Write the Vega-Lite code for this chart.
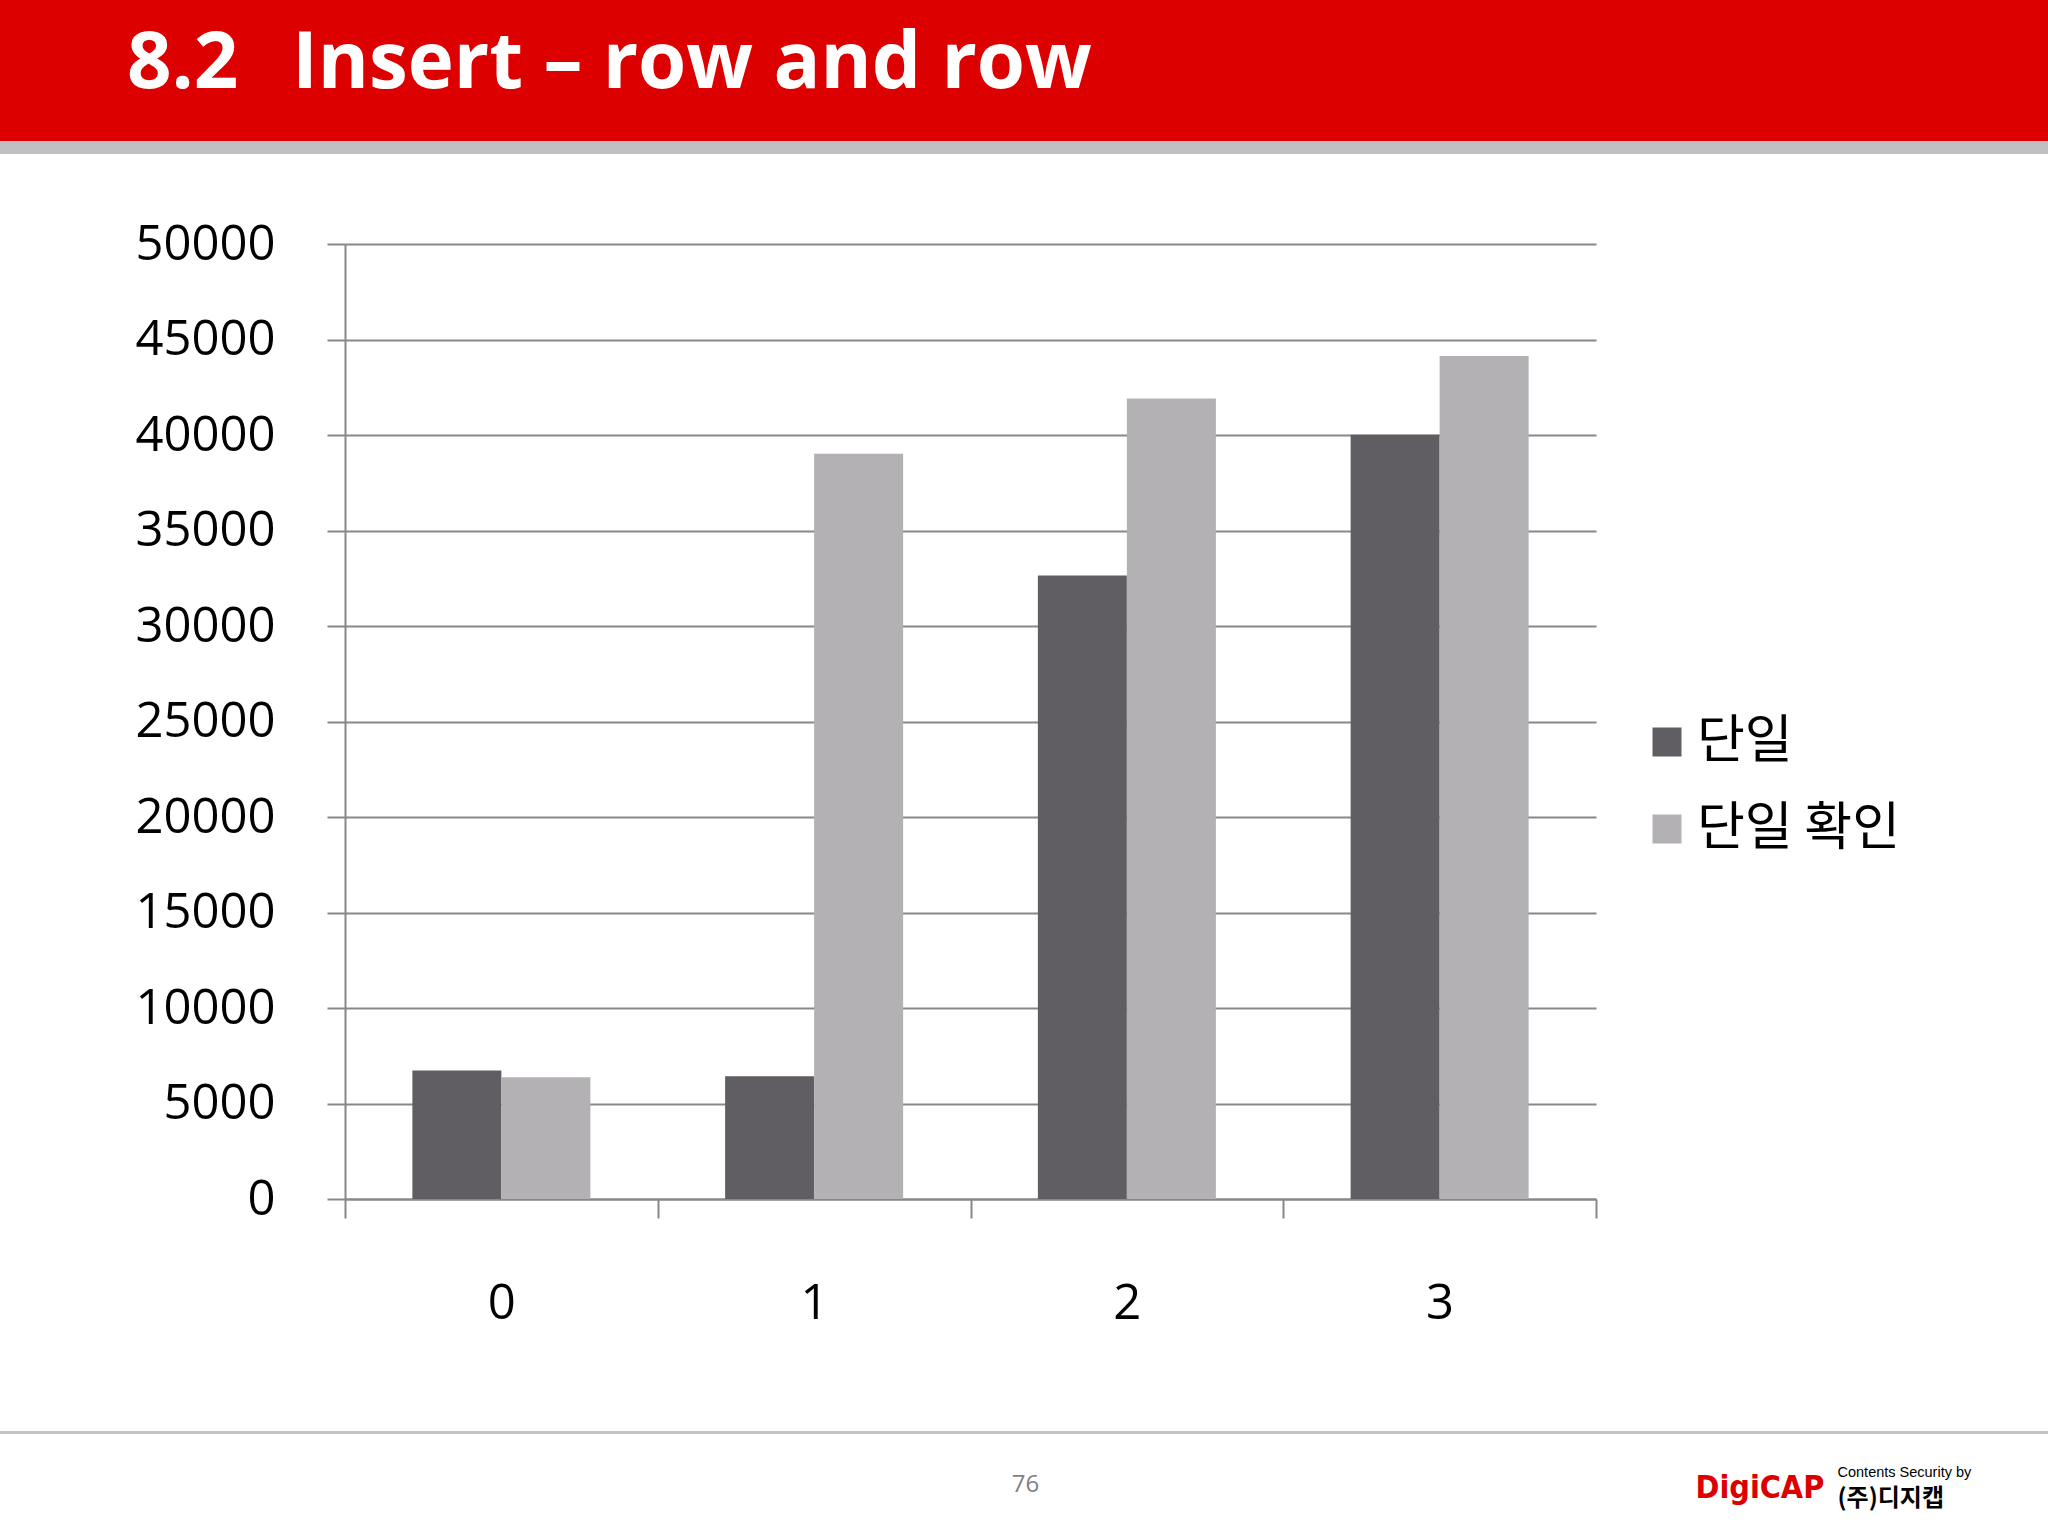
{
  "$schema": "https://vega.github.io/schema/vega-lite/v6.json",
  "width": 2048,
  "height": 1536,
  "autosize": {"type": "none"},
  "padding": 0,
  "background": "white",
  "view": {
    "stroke": null,
    "fill": {
      "gradient": "linear", "x1": 0, "y1": 0, "x2": 0, "y2": 1,
      "stops": [
        {"offset": 0, "color": "#DC0000"},
        {"offset": 0.0918, "color": "#DC0000"},
        {"offset": 0.0918, "color": "#C0BFC1"},
        {"offset": 0.1003, "color": "#C0BFC1"},
        {"offset": 0.1003, "color": "#FFFFFF"},
        {"offset": 0.9316, "color": "#FFFFFF"},
        {"offset": 0.9316, "color": "#C3C2C4"},
        {"offset": 0.9336, "color": "#C3C2C4"},
        {"offset": 0.9336, "color": "#FFFFFF"},
        {"offset": 1, "color": "#FFFFFF"}
      ]
    }
  },
  "title": {
    "text": "8.2 \u2009\u00a0Insert – row and row",
    "orient": "top",
    "anchor": "start",
    "frame": "group",
    "offset": -88,
    "dy": 78,
    "baseline": "alphabetic",
    "dx": 127,
    "color": "#FFFFFF",
    "font": "Open Sans",
    "fontSize": 78,
    "fontWeight": "bold"
  },
  "data": {
    "values": [
      {"group": "0", "series": "단일", "value": 6730},
      {"group": "0", "series": "단일 확인", "value": 6380},
      {"group": "1", "series": "단일", "value": 6430},
      {"group": "1", "series": "단일 확인", "value": 39020},
      {"group": "2", "series": "단일", "value": 32640},
      {"group": "2", "series": "단일 확인", "value": 41910},
      {"group": "3", "series": "단일", "value": 40010},
      {"group": "3", "series": "단일 확인", "value": 44130}
    ]
  },
  "layer": [
    {
      "mark": {"type": "bar"},
      "encoding": {
        "x": {
          "field": "group", "type": "nominal", "sort": ["0", "1", "2", "3"],
          "scale": {"range": [345, 1596], "paddingInner": 0, "paddingOuter": 0},
          "axis": {
            "orient": "bottom", "offset": -337,
            "labelAngle": 0, "labelFont": "Open Sans", "labelFontSize": 49, "labelColor": "#000000",
            "labelPadding": 61, "tickBand": "extent", "tickSize": 19, "tickColor": "#888888", "tickWidth": 2,
            "domainColor": "#888888", "domainWidth": 2, "grid": false,
            "title": "76", "titleX": 1025, "titleY": 285, "titleAlign": "center", "titleBaseline": "middle",
            "titleFont": "Open Sans", "titleFontSize": 24, "titleFontWeight": "normal", "titleColor": "#7F7F7F"
          }
        },
        "xOffset": {
          "field": "series", "type": "nominal", "sort": ["단일", "단일 확인"],
          "scale": {"paddingInner": 0, "paddingOuter": 0.757}
        },
        "y": {
          "field": "value", "type": "quantitative",
          "scale": {"domain": [0, 50000], "range": [1199, 244], "nice": false, "zero": true},
          "axis": {
            "orient": "left", "offset": -345,
            "values": [0, 5000, 10000, 15000, 20000, 25000, 30000, 35000, 40000, 45000, 50000],
            "format": "d", "labelFont": "Open Sans", "labelFontSize": 49, "labelColor": "#000000",
            "labelPadding": 52, "tickSize": 18, "tickColor": "#888888", "tickWidth": 2,
            "domainColor": "#888888", "domainWidth": 2,
            "grid": true, "gridColor": "#888888", "gridWidth": 2,
            "title": "(주)디지캡", "titleAngle": 0, "titleX": 1492, "titleY": 1505,
            "titleAlign": "left", "titleBaseline": "alphabetic",
            "titleFont": "Noto Sans CJK KR", "titleFontSize": 24, "titleFontWeight": "bold", "titleColor": "#000000"
          }
        },
        "color": {
          "field": "series", "type": "nominal",
          "scale": {"domain": ["단일", "단일 확인"], "range": ["#605E62", "#B3B1B4"]},
          "legend": {
            "orient": "none", "legendX": 1641, "legendY": 716, "title": null,
            "symbolType": "square", "symbolSize": 841, "symbolStrokeWidth": 0,
            "labelFont": "Noto Sans CJK KR", "labelFontSize": 52, "labelColor": "#000000", "labelLimit": 0,
            "labelOffset": 4, "rowPadding": 35, "padding": 0
          }
        }
      }
    },
    {
      "mark": {"type": "point", "opacity": 0},
      "encoding": {
        "x": {
          "field": "group", "type": "nominal", "sort": ["0", "1", "2", "3"],
          "axis": {
            "orient": "top", "offset": 0, "domain": false, "ticks": false, "labels": false, "grid": false,
            "title": "Contents Security by", "titleX": 1837, "titleY": 1476,
            "titleAlign": "left", "titleBaseline": "alphabetic",
            "titleFont": "Liberation Sans", "titleFontSize": 14.5, "titleFontWeight": "normal", "titleColor": "#000000"
          }
        },
        "y": {
          "field": "value", "type": "quantitative",
          "axis": {
            "orient": "right", "offset": 0, "domain": false, "ticks": false, "labels": false, "grid": false,
            "title": "DigiCAP", "titleAngle": 0, "titleX": -353, "titleY": 1497,
            "titleAlign": "left", "titleBaseline": "alphabetic",
            "titleFont": "'Liberation Sans Narrow', 'DejaVu Sans Condensed', sans-serif", "titleFontSize": 32, "titleFontWeight": "bold", "titleColor": "#DC0000"
          }
        }
      }
    }
  ],
  "resolve": {"axis": {"x": "independent", "y": "independent"}}
}
